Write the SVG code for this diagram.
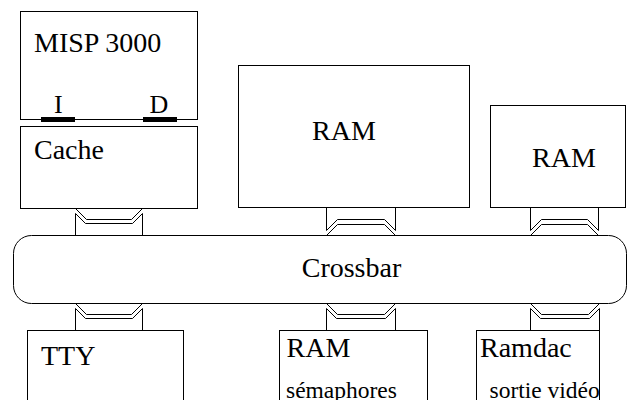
<svg xmlns="http://www.w3.org/2000/svg" width="627" height="400" viewBox="0 0 627 400">
<style>
.box{fill:#fff;stroke:#000;stroke-width:1}
.bar{fill:#000}
.con{fill:none;stroke:#000;stroke-width:1}
.t{font-family:"Liberation Serif","Times New Roman",serif;font-size:28px;fill:#000}
.s{font-family:"Liberation Serif","Times New Roman",serif;font-size:23.5px;fill:#000}
</style>
<rect width="627" height="400" fill="#fff"/>
<g id="connectors">
<!-- Cache -> Crossbar (down) -->
<path class="con" d="M75.5,208.5 L86.5,219.5 L131.5,219.5 L142.5,208.5 M75.5,213.5 L85.5,223.5 L132.5,223.5 L142.5,213.5 M75.5,213.5 V235.5 M142.5,213.5 V235.5"/>
<!-- RAM big (up) -->
<path class="con" d="M326.5,235.5 L337.5,224.5 L384.5,224.5 L395.5,235.5 M326.5,230.5 L337.5,219.5 L384.5,219.5 L395.5,230.5 M326.5,207.5 V230.5 M395.5,207.5 V230.5"/>
<!-- RAM right (up) -->
<path class="con" d="M530.5,235.5 L541.5,224.5 L587.5,224.5 L598.5,235.5 M530.5,230.5 L541.5,219.5 L587.5,219.5 L598.5,230.5 M530.5,207.5 V230.5 M598.5,207.5 V230.5"/>
<!-- TTY (down) -->
<path class="con" d="M75.5,303.5 L86.5,314.5 L131.5,314.5 L142.5,303.5 M75.5,308.5 L85.5,318.5 L132.5,318.5 L142.5,308.5 M75.5,308.5 V330.5 M142.5,308.5 V330.5"/>
<!-- RAM semaphores (down) -->
<path class="con" d="M326.5,303.5 L337.5,314.5 L384.5,314.5 L395.5,303.5 M326.5,308.5 L336.5,318.5 L385.5,318.5 L395.5,308.5 M326.5,308.5 V330.5 M395.5,308.5 V330.5"/>
<!-- Ramdac (down) -->
<path class="con" d="M530.5,303.5 L541.5,314.5 L588.5,314.5 L599.5,303.5 M530.5,308.5 L540.5,318.5 L589.5,318.5 L599.5,308.5 M530.5,308.5 V330.5 M599.5,308.5 V330.5"/>
</g>
<g id="misp">
<rect class="box" x="20.5" y="11.5" width="177" height="108"/>
<text class="t" x="34" y="52">MISP 3000</text>
<text class="t" x="54" y="113" style="font-size:26px">I</text>
<text class="t" x="149.5" y="113" style="font-size:26px">D</text>
<rect class="bar" x="41" y="117" width="34" height="5"/>
<rect class="bar" x="143" y="117" width="34" height="5"/>
</g>
<g id="cache">
<rect class="box" x="20.5" y="126.5" width="177" height="82"/>
<text class="t" x="34" y="159">Cache</text>
</g>
<g id="ram1">
<rect class="box" x="238.5" y="65.5" width="231" height="142"/>
<text class="t" x="312" y="140">RAM</text>
</g>
<g id="ram2">
<rect class="box" x="490.5" y="105.5" width="135" height="102"/>
<text class="t" x="532" y="167">RAM</text>
</g>
<g id="crossbar">
<rect class="box" x="13.5" y="235.5" width="613" height="68" rx="18" ry="18"/>
<text class="t" x="351.5" y="276.5" text-anchor="middle">Crossbar</text>
</g>
<g id="tty">
<rect class="box" x="27.5" y="330.5" width="156" height="80"/>
<text class="t" x="41" y="365">TTY</text>
</g>
<g id="ramsem">
<rect class="box" x="279.5" y="330.5" width="148" height="80"/>
<text class="t" x="286.5" y="357">RAM</text>
<text class="s" x="286" y="398">sémaphores</text>
</g>
<g id="ramdac">
<rect class="box" x="476.5" y="330.5" width="123" height="80"/>
<text class="t" x="480" y="357">Ramdac</text>
<text class="s" x="489.5" y="398">sortie vidéo</text>
</g>
</svg>
